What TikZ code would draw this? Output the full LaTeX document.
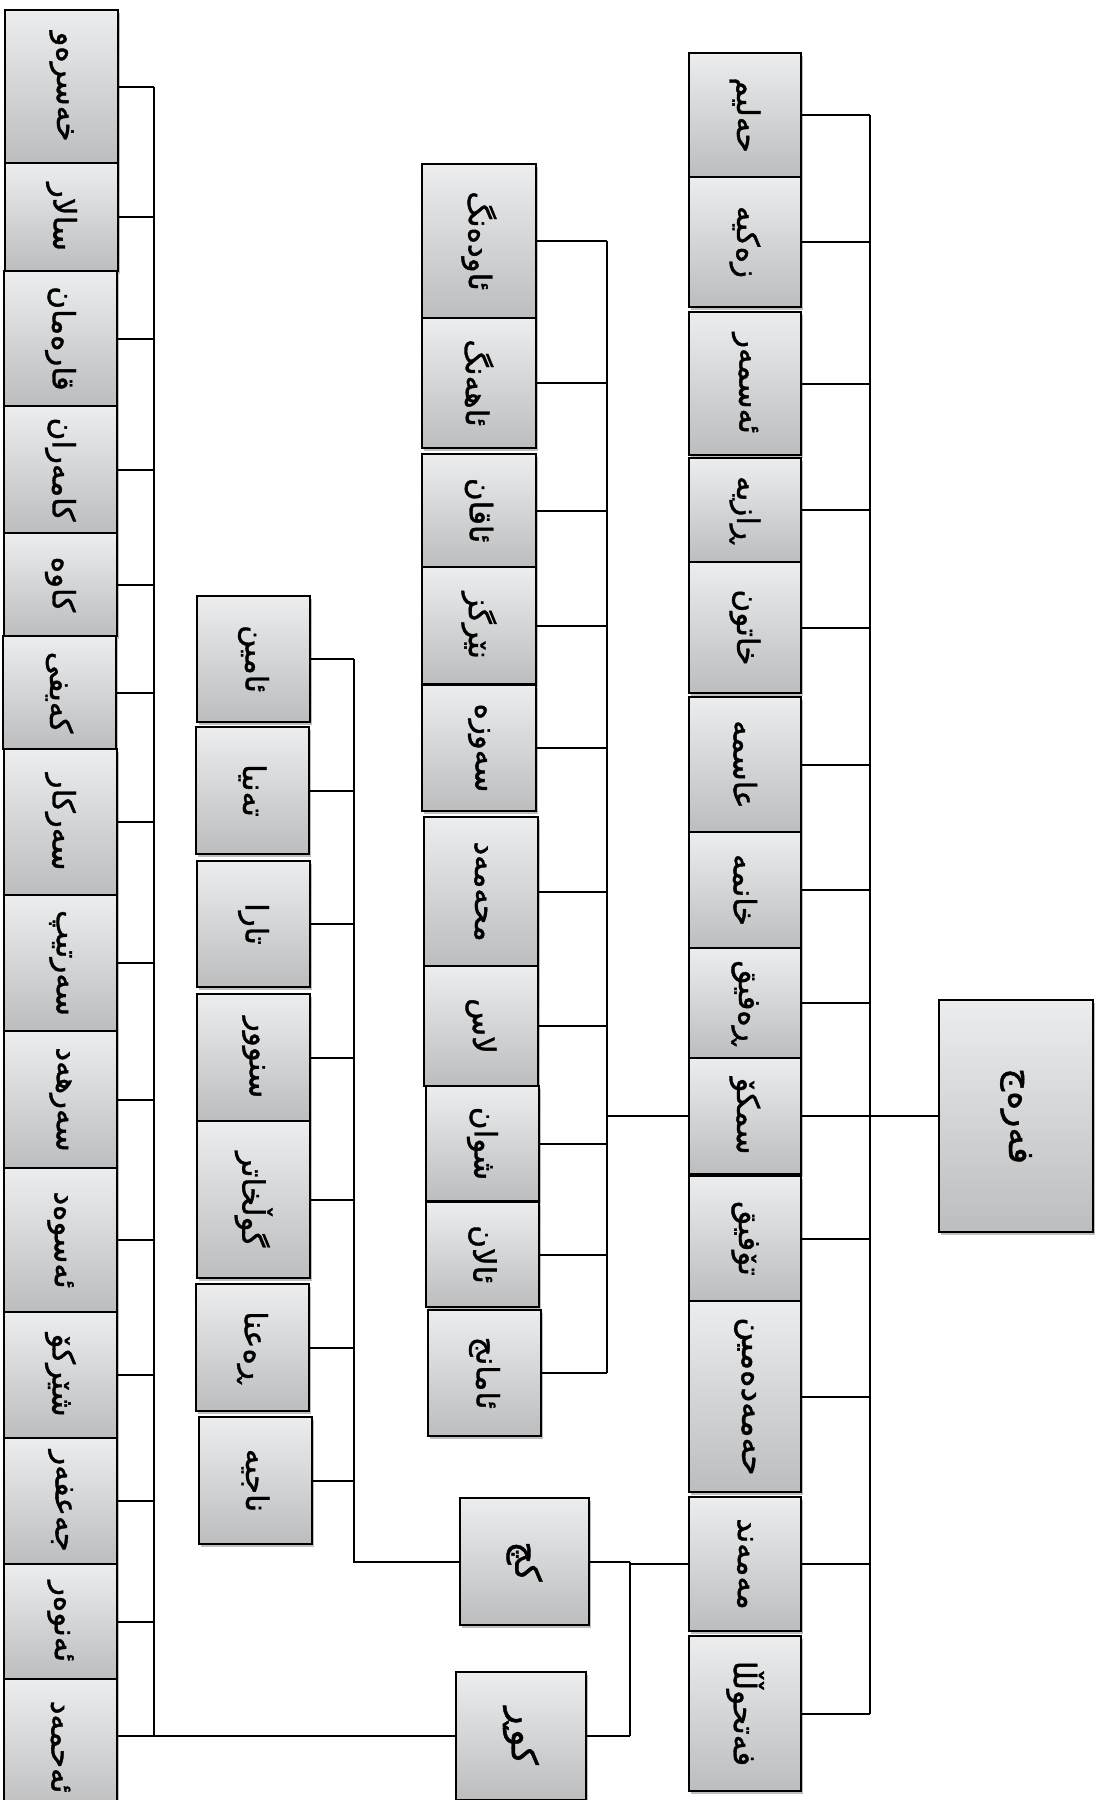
\documentclass[tikz,border=0pt]{standalone}
\usepackage{fontspec}
\newfontfamily\arfont[Script=Arabic,FakeBold=1.2]{DejaVu Sans}
\TeXXeTstate=1
\usetikzlibrary{shadows}
\definecolor{boxtop}{RGB}{236,237,238}
\definecolor{boxbot}{RGB}{188,189,191}
\newcommand{\nmtext}[2]{\rotatebox{-90}{\arfont\fontsize{#1}{#1}\selectfont\beginR #2\endR}}
\newcommand{\famnode}[7]{\node[famb,minimum width={#4-#2},minimum height={#5-#3}] (#1) at ({(#2+#4)/2},{(#3+#5)/2}) {\nmtext{#6}{#7}};}
\begin{document}
\begin{tikzpicture}[x=1pt,y=-1pt,
  famb/.style={draw=black,line width=2.4pt,top color=boxtop,bottom color=boxbot,inner sep=0pt,
    drop shadow={shadow xshift=1.5pt,shadow yshift=-2.5pt,opacity=0.25,fill=black}},
  conn/.style={draw=black,line width=2pt}]
\useasboundingbox (0,0) rectangle (1102,1800);
\fill[white] (0,0) rectangle (1102,1800);
\clip (0,0) rectangle (1102,1800);
% right column
\famnode{r1}{689}{53}{801}{177}{31}{حەلیم}
\famnode{r2}{689}{177}{801}{307}{31}{زەکیە}
\famnode{r3}{689}{312}{801}{455}{31}{ئەسمەر}
\famnode{r4}{689}{458}{801}{562}{31}{ڕازیە}
\famnode{r5}{689}{562}{801}{693}{31}{خاتون}
\famnode{r6}{689}{697}{801}{832}{31}{عاسمە}
\famnode{r7}{689}{832}{801}{948}{31}{خانمە}
\famnode{r8}{689}{948}{801}{1058}{31}{ڕەفیق}
\famnode{r9}{689}{1058}{801}{1174}{31}{سمکۆ}
\famnode{r10}{689}{1176}{801}{1301}{31}{تۆفیق}
\famnode{r11}{689}{1301}{801}{1492}{33}{حەمەدەمین}
\famnode{r12}{689}{1497}{801}{1631}{31}{مەمەند}
\famnode{r13}{689}{1636}{801}{1791}{31}{فەتحوڵڵا}
\famnode{root}{939}{1000}{1093}{1232}{36}{فەرەج}
% second column
\famnode{a1}{422}{164}{536}{318}{31}{ئاودەنگ}
\famnode{a2}{422}{318}{536}{448}{31}{ئاهەنگ}
\famnode{a3}{422}{454}{536}{567}{31}{ئاقان}
\famnode{a4}{422}{567}{536}{684}{31}{نێرگز}
\famnode{a5}{422}{685}{536}{811}{31}{سەوزە}
\famnode{a6}{424}{817}{538}{966}{31}{محەمەد}
\famnode{a7}{424}{966}{538}{1086}{31}{لاس}
\famnode{a8}{426}{1086}{539}{1201}{31}{شوان}
\famnode{a9}{426}{1202}{539}{1307}{31}{ئالان}
\famnode{a10}{428}{1310}{541}{1436}{31}{ئامانج}
% third column
\famnode{b1}{197}{596}{310}{722}{31}{ئامین}
\famnode{b2}{196}{727}{309}{854}{31}{تەنیا}
\famnode{b3}{197}{861}{310}{987}{31}{تارا}
\famnode{b4}{197}{994}{310}{1121}{31}{سنوور}
\famnode{b5}{197}{1121}{310}{1278}{31}{گوڵخاتر}
\famnode{b6}{196}{1284}{309}{1411}{31}{ڕەعنا}
\famnode{b7}{199}{1417}{312}{1544}{31}{ناجیە}
% daughters / sons
\famnode{kch}{460}{1498}{589}{1625}{36}{کچ}
\famnode{kur}{456}{1672}{586}{1800}{36}{کوڕ}
% left column
\famnode{l1}{5}{10}{118}{163}{31}{خەسرەو}
\famnode{l2}{5}{163}{118}{271}{31}{سالار}
\famnode{l3}{4}{271}{117}{406}{31}{قارەمان}
\famnode{l4}{4}{406}{117}{533}{31}{کامەران}
\famnode{l5}{4}{533}{117}{636}{31}{کاوە}
\famnode{l6}{3}{636}{116}{749}{31}{کەیفی}
\famnode{l7}{4}{749}{117}{895}{31}{سەرکار}
\famnode{l8}{4}{895}{117}{1031}{31}{سەرتیپ}
\famnode{l9}{4}{1031}{117}{1168}{31}{سەرهەد}
\famnode{l10}{4}{1168}{117}{1312}{31}{ئەسوەد}
\famnode{l11}{4}{1312}{117}{1438}{31}{شێرکۆ}
\famnode{l12}{4}{1438}{117}{1564}{31}{جەعفەر}
\famnode{l13}{4}{1564}{117}{1679}{31}{ئەنوەر}
\famnode{l14}{4}{1679}{117}{1815}{31}{ئەحمەد}
% buses
\coordinate (busR) at (870,0);
\coordinate (bus2) at (607,0);
\coordinate (bus3) at (354,0);
\coordinate (busK) at (630,0);
\coordinate (busL) at (154,0);
\foreach \n in {r1,r2,r3,r4,r5,r6,r7,r8,r9,r10,r11,r12,r13}{\draw[conn] (\n.east) -- (\n.east -| busR);}
\draw[conn] (busR |- r1.east) -- (busR |- r13.east);
\draw[conn] (root.west) -- (root.west -| busR);
\foreach \n in {a1,a2,a3,a4,a5,a6,a7,a8,a9,a10}{\draw[conn] (\n.east) -- (\n.east -| bus2);}
\draw[conn] (bus2 |- a1.east) -- (bus2 |- a10.east);
\draw[conn] (r9.west) -- (r9.west -| bus2);
\foreach \n in {b1,b2,b3,b4,b5,b6,b7}{\draw[conn] (\n.east) -- (\n.east -| bus3);}
\draw[conn] (bus3 |- b1.east) -- (bus3 |- kch.west) -- (kch.west);
\draw[conn] (kch.east) -- (kch.east -| busK);
\draw[conn] (kur.east) -- (kur.east -| busK);
\draw[conn] (busK |- kch.east) -- (busK |- kur.east);
\draw[conn] (r12.west) -- (r12.west -| busK);
\foreach \n in {l1,l2,l3,l4,l5,l6,l7,l8,l9,l10,l11,l12,l13}{\draw[conn] (\n.east) -- (\n.east -| busL);}
\draw[conn] (busL |- l1.east) -- (busL |- kur.west);
\draw[conn] (l14.east |- kur.west) -- (kur.west);
\end{tikzpicture}
\end{document}
